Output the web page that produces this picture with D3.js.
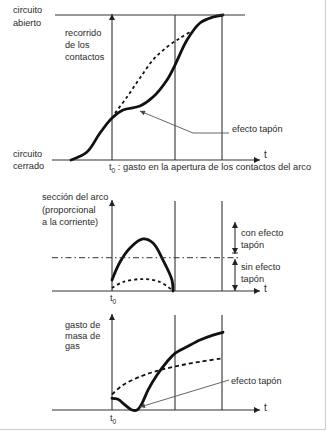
<!DOCTYPE html>
<html><head><meta charset="utf-8">
<script src="https://cdn.jsdelivr.net/npm/d3@7"></script>
<style>
html,body{margin:0;padding:0;background:#fff;}
svg{display:block;}
text{font-family:"Liberation Sans",Arial,sans-serif;fill:#2a2a2a;font-size:9px;}
</style></head>
<body>
<script>
// ---- Data ----
// time markers (t0 = 0) and curve samples [t, value]
const markers = [0, 3.15, 5.5];
const p1Solid = [[-2.05,0],[-1.25,0.055],[-0.6,0.186],[0,0.29],[0.55,0.345],[1.4,0.372],[2.05,0.434],[2.75,0.552],[3.15,0.655],[3.75,0.828],[4.4,0.945],[5.05,0.986],[5.55,1.0]];
const p1Dashed = [[0.15,0.324],[0.75,0.434],[1.4,0.566],[2.05,0.69],[2.75,0.779],[3.4,0.841],[3.9,0.883]];
const p2Solid = [[0,0.122],[0.4,0.322],[0.9,0.478],[1.55,0.578],[2.05,0.533],[2.55,0.344],[3.0,0.122],[3.05,0]];
const p2Dashed = [[0,0.033],[0.55,0.1],[1.55,0.133],[2.4,0.1],[3.0,0.011]];
const p2Threshold = 0.37;
const p3Solid = [[0,0.123],[0.3,0.113],[0.65,0.053],[1.0,0],[1.25,0],[1.5,0.07],[1.8,0.21],[2.25,0.368],[2.75,0.508],[3.15,0.597],[3.75,0.666],[4.4,0.737],[5.05,0.789],[5.55,0.818]];
const p3Dashed = [[0,0.165],[0.55,0.263],[1.4,0.351],[2.25,0.411],[3.25,0.463],[4.4,0.508],[5.55,0.544]];
const p1Labels = {top:["circuito","abierto"], axis:["recorrido","de los","contactos"], bottom:["circuito","cerrado"]};
const p2Labels = {axis:["sección  del arco","(proporcional","a la corriente)"], con:["con efecto","tapón"], sin:["sin efecto","tapón"]};
const p3Labels = {axis:["gasto de","masa de","gas"]};
const t0Caption = " : gasto en la apertura de los contactos del arco";
const tapon = "efecto tapón";

// ---- Drawing ----
const W=327,H=431;
const svg=d3.select("body").append("svg").attr("width",W).attr("height",H);
const defs=svg.append("defs");
function marker(id,color,w,h){
  defs.append("marker").attr("id",id).attr("viewBox","0 0 10 10").attr("refX",10).attr("refY",5)
   .attr("markerWidth",w).attr("markerHeight",h).attr("markerUnits","userSpaceOnUse")
   .attr("orient","auto-start-reverse").append("path").attr("d","M0,0L10,5L0,10z").attr("fill",color);
}
marker("ax","#222",9,6);
marker("pt","#444",8,5);

// border
svg.append("rect").attr("x",-2).attr("y",-2).attr("width",327.5).attr("height",431.5)
  .attr("fill","none").attr("stroke","#d0d0d0").attr("stroke-width",1.2);

const x=d3.scaleLinear().domain([-3,7.4]).range([52,260]);
const axisColor="#333";

function panel(g,cfg){
  const y=d3.scaleLinear().domain([0,1]).range([cfg.base,cfg.top]);
  g.append("line").attr("x1",x.range()[0]).attr("x2",x(7.4)).attr("y1",y(0)).attr("y2",y(0))
   .attr("stroke",axisColor).attr("stroke-width",1.1).attr("marker-end","url(#ax)");
  g.append("text").attr("x",x(7.4)+4).attr("y",y(0)+cfg.tdy).text("t").style("font-size","10px");
  g.append("line").attr("x1",x(markers[0])).attr("x2",x(markers[0])).attr("y1",y(0)).attr("y2",cfg.arrowTop)
   .attr("stroke",axisColor).attr("stroke-width",1.1).attr("marker-end","url(#ax)");
  markers.slice(1).forEach(m=>{
    g.append("line").attr("x1",x(m)).attr("x2",x(m)).attr("y1",y(0)).attr("y2",cfg.lineTop)
     .attr("stroke",axisColor).attr("stroke-width",1.1);
  });
  const line=d3.line().x(d=>x(d[0])).y(d=>y(d[1])).curve(d3.curveCatmullRom.alpha(0.5));
  g.append("path").attr("d",line(cfg.dashed)).attr("fill","none").attr("stroke","#111")
   .attr("stroke-width",1.8).attr("stroke-dasharray",cfg.dash);
  g.append("path").attr("d",line(cfg.solid)).attr("fill","none").attr("stroke","#111")
   .attr("stroke-width",2.8).attr("stroke-linecap","round");
  return y;
}
function lines(g,arr,xp,y0,dy,size){
  arr.forEach((s,i)=>g.append("text").attr("x",xp).attr("y",y0+i*dy).text(s).style("font-size",(size||9.2)+"px"));
}
function t0label(g,xp,yp,rest){
  const t=g.append("text").attr("x",xp).attr("y",yp).style("font-size","9.3px");
  t.append("tspan").text("t");
  t.append("tspan").attr("dy",3).style("font-size","6.5px").text("0");
  if(rest) t.append("tspan").attr("dy",-3).text(rest);
}

// Panel 1
const g1=svg.append("g");
const y1=panel(g1,{base:160,top:15,arrowTop:14,lineTop:15,solid:p1Solid,dashed:p1Dashed,dash:"3,3",tdy:-2});
g1.append("line").attr("x1",55).attr("x2",245).attr("y1",y1(1)).attr("y2",y1(1)).attr("stroke",axisColor).attr("stroke-width",1.1);
lines(g1,p1Labels.top,13,13,13);
lines(g1,p1Labels.axis,65,36,12);
lines(g1,p1Labels.bottom,13,157,12);
t0label(g1,109,170,t0Caption);
g1.append("polyline").attr("points",[[229,133],[193,133],[x(1.4),y1(0.372)+5]].map(p=>p.join(",")).join(" "))
  .attr("fill","none").attr("stroke","#555").attr("stroke-width",0.9).attr("marker-end","url(#pt)");
g1.append("text").attr("x",232).attr("y",132).text(tapon).style("font-size","9.2px");

// Panel 2
const g2=svg.append("g");
const y2=panel(g2,{base:291,top:201,arrowTop:200,lineTop:201,solid:p2Solid,dashed:p2Dashed,dash:"3,3",tdy:1});
g2.append("line").attr("x1",52).attr("x2",238).attr("y1",y2(p2Threshold)).attr("y2",y2(p2Threshold))
  .attr("stroke",axisColor).attr("stroke-width",1).attr("stroke-dasharray","6,3,1.5,3");
const ax2=235;
g2.append("line").attr("x1",ax2).attr("x2",ax2).attr("y1",254).attr("y2",222)
  .attr("stroke",axisColor).attr("stroke-width",1.1).attr("marker-end","url(#ax)").attr("marker-start","url(#ax)");
g2.append("line").attr("x1",ax2).attr("x2",ax2).attr("y1",259).attr("y2",291)
  .attr("stroke",axisColor).attr("stroke-width",1.1).attr("marker-end","url(#ax)").attr("marker-start","url(#ax)");
g2.append("line").attr("x1",ax2-3).attr("x2",ax2+3).attr("y1",253).attr("y2",253).attr("stroke",axisColor);
lines(g2,p2Labels.axis,42,200,12.5);
lines(g2,p2Labels.con,241,236,12);
lines(g2,p2Labels.sin,241,270,12);
t0label(g2,110,301);

// Panel 3
const g3=svg.append("g");
const y3=panel(g3,{base:410,top:315,arrowTop:314,lineTop:315,solid:p3Solid,dashed:p3Dashed,dash:"4,3",tdy:1});
lines(g3,p3Labels.axis,65,328,10.5);
g3.append("line").attr("x1",229).attr("x2",x(1.3)+2).attr("y1",380).attr("y2",y3(0)-3)
  .attr("stroke","#555").attr("stroke-width",0.9).attr("marker-end","url(#pt)");
g3.append("text").attr("x",231).attr("y",384).text(tapon).style("font-size","9.2px");
t0label(g3,110,421);
</script>
</body></html>
